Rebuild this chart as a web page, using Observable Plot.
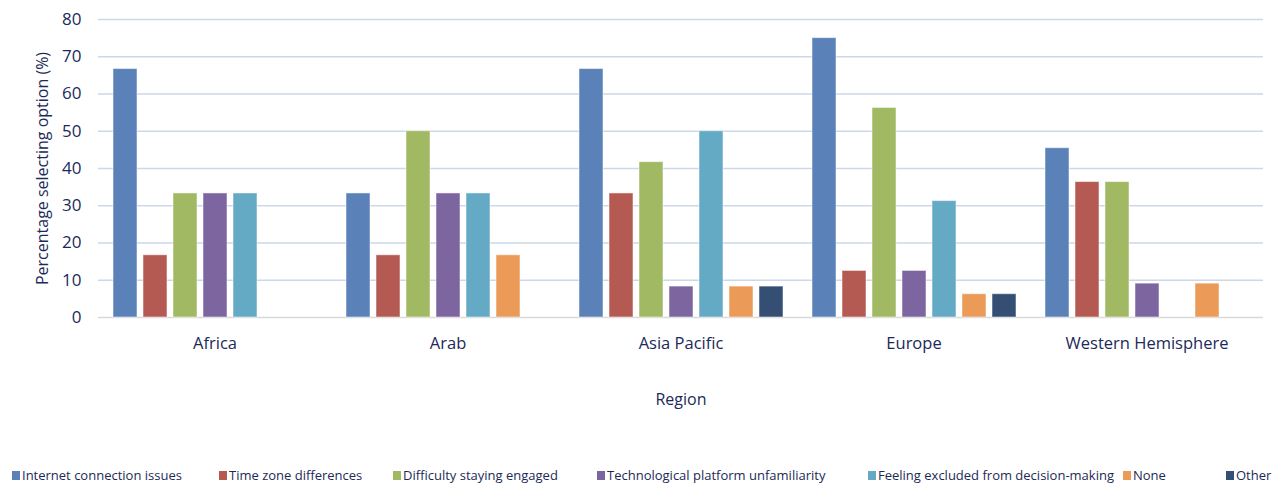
<!DOCTYPE html>
<html>
<head>
<meta charset="utf-8">
<script src="https://cdn.jsdelivr.net/npm/d3@7"></script>
<script src="https://cdn.jsdelivr.net/npm/@observablehq/plot@0.6"></script>
<style>
  body { margin: 0; background: #fff; }
  #wrap { position: relative; width: 1276px; height: 484px; overflow: hidden; font-family: "Open Sans", sans-serif; }
  #legend { position: absolute; left: 0; top: 467px; width: 1276px; height: 16px; }
  .li { position: absolute; top: 0; height: 16px; line-height: 16px; font-size: 13px; color: #1c2a58; white-space: nowrap; }
  .sw { display: inline-block; width: 8px; height: 9px; margin-right: 2px; vertical-align: 0px; }
</style>
</head>
<body>
<div id="wrap"></div>
<script>
const regions = ["Africa", "Arab", "Asia Pacific", "Europe", "Western Hemisphere"];
const seriesNames = [
  "Internet connection issues",
  "Time zone differences",
  "Difficulty staying engaged",
  "Technological platform unfamiliarity",
  "Feeling excluded from decision-making",
  "None",
  "Other"
];
const internetConnection = [66.7, 33.3, 66.7, 75.0, 45.45];
const timeZone           = [16.7, 16.7, 33.3, 12.5, 36.36];
const difficultyEngaged  = [33.3, 50.0, 41.7, 56.25, 36.36];
const platformUnfamiliar = [33.3, 33.3, 8.3, 12.5, 9.09];
const feelingExcluded    = [33.3, 33.3, 50.0, 31.25, 0];
const none               = [0, 16.7, 8.3, 6.25, 9.09];
const other              = [0, 0, 8.3, 6.25, 0];
const yTicks = [0, 10, 20, 30, 40, 50, 60, 70, 80];
const colors = ["#5a82b8", "#b55a52", "#a2b964", "#7d65a0", "#65aac4", "#eb9b57", "#344e74"];

const seriesValues = [internetConnection, timeZone, difficultyEngaged, platformUnfamiliar, feelingExcluded, none, other];
const rows = [];
regions.forEach((r, i) => seriesNames.forEach((s, j) => rows.push({region: r, series: s, value: seriesValues[j][i]})));

const ink = "#1c2a58";
const chart = Plot.plot({
  width: 1276,
  height: 467,
  marginLeft: 97,
  marginRight: 13,
  marginTop: 19,
  marginBottom: 150,
  style: {fontFamily: "Open Sans, sans-serif", color: ink, background: "white"},
  fx: {domain: regions, padding: 0, label: null, axis: null},
  x: {domain: seriesNames, paddingInner: 0.21, paddingOuter: 0.43, axis: null},
  y: {domain: [0, 80], ticks: yTicks, label: null},
  color: {domain: seriesNames, range: colors},
  marks: [
    Plot.gridY(yTicks.filter(d => d > 0), {stroke: "#cdd7ea", strokeOpacity: 1, strokeWidth: 1.6}),
    Plot.ruleY([0], {stroke: "#d9d9d9", strokeWidth: 1.6}),
    Plot.barY(rows.filter(d => d.value > 0), {fx: "region", x: "series", y: "value", fill: "series", stroke: "white", strokeOpacity: 0.5, strokeWidth: 1}),
    Plot.axisY(yTicks, {tickSize: 0, tickPadding: 17, fontSize: 17, fill: ink, label: "Percentage selecting option (%)", labelAnchor: "center", labelArrow: "none", labelOffset: 62}),
    Plot.axisFx({anchor: "bottom", tickSize: 0, tickPadding: 20, fontSize: 16.5, fill: ink, label: "Region", labelAnchor: "center", labelArrow: "none", labelOffset: 87})
  ]
});
const wrap = document.getElementById("wrap");
wrap.appendChild(chart);
d3.select(chart).selectAll("[aria-label='y-axis label'] text, [aria-label='fx-axis label'] text").style("font-size", "16px");

const legendX = [12, 219, 393, 597, 868, 1123, 1226];
const legend = document.createElement("div");
legend.id = "legend";
seriesNames.forEach((s, i) => {
  const item = document.createElement("div");
  item.className = "li";
  item.style.left = legendX[i] + "px";
  item.innerHTML = `<span class="sw" style="background:${colors[i]}"></span>${s}`;
  legend.appendChild(item);
});
wrap.appendChild(legend);
</script>
</body>
</html>
